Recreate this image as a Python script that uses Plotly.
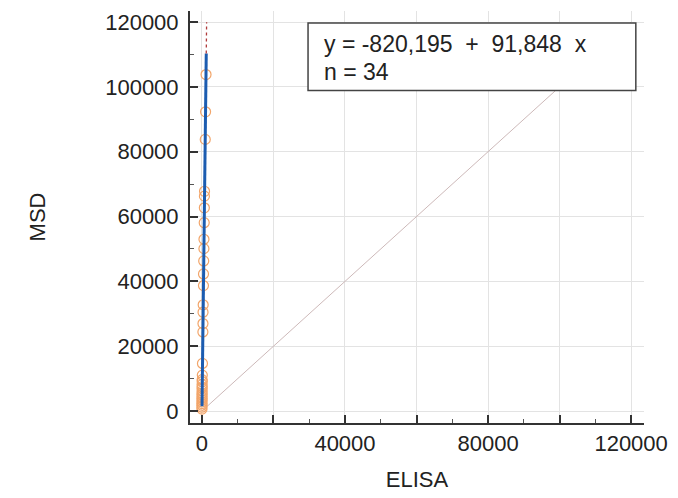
import plotly.graph_objects as go

# Data
msd = [103800, 92300, 83800, 67800, 66300, 62700, 58100, 53000, 50100, 46300,
       42300, 38700, 32800, 30500, 27000, 24400, 14700, 11100, 9700, 9100,
       8200, 7500, 7000, 6200, 5500, 5000, 4400, 3900, 3400, 2800,
       2300, 1800, 1200, 600]
elisa = [1150, 1020, 930, 730, 700, 680, 640, 570, 560, 500,
         440, 430, 350, 310, 290, 270, 150, 110, 60, 90,
         40, 80, 30, 70, 20, 60, 10, 50, 30, 20,
         10, 30, 0, 10]
intercept = -820.195
slope = 91.848
fit_x = [25, 1210]
ext_x = [1210, 1315]
identity = [0, 120000]

FONT = "Liberation Sans, Arial"
fig = go.Figure()
fig.add_trace(go.Scatter(x=identity, y=identity, mode="lines",
                         line=dict(color="#cdb9b9", width=1), hoverinfo="skip"))
fig.add_trace(go.Scatter(x=elisa, y=msd, mode="markers",
                         marker=dict(symbol="circle-open", size=10,
                                     color="#f2a56a", line=dict(width=1.2))))
fig.add_trace(go.Scatter(x=fit_x, y=[intercept + slope * v for v in fit_x], mode="lines",
                         line=dict(color="#1c5cb0", width=3)))
fig.add_trace(go.Scatter(x=ext_x, y=[intercept + slope * v for v in ext_x], mode="lines",
                         line=dict(color="#b03a3a", width=1.3, dash="dot")))

axis_common = dict(
    showline=True, linecolor="#333333", linewidth=2,
    ticks="inside", ticklen=8, tickwidth=2, tickcolor="#333333",
    showgrid=True, gridcolor="#e3e3e3", gridwidth=1, zeroline=False,
    tickfont=dict(family=FONT, size=22, color="#222222"),
    minor=dict(ticks="inside", ticklen=4, tickwidth=1, tickcolor="#555555",
               dtick=10000, showgrid=False),
)
fig.update_xaxes(**axis_common, range=[-3333, 123600], ticklabelstandoff=0,
                 tickvals=[0, 20000, 40000, 60000, 80000, 100000, 120000],
                 ticktext=["0", "", "40000", "", "80000", "", "120000"],
                 title=dict(text="ELISA", font=dict(family=FONT, size=22, color="#222222"),
                            standoff=16))
fig.update_yaxes(**axis_common, range=[-3675, 123400], ticklabelstandoff=5,
                 tickvals=[0, 20000, 40000, 60000, 80000, 100000, 120000],
                 ticktext=["0", "20000", "40000", "60000", "80000", "100000", "120000"],
                 title=dict(text="MSD", font=dict(family=FONT, size=22, color="#222222"),
                            standoff=53))

fig.add_shape(type="rect", xref="paper", yref="paper", x0=0.260, x1=0.982, y0=0.807, y1=0.971,
              line=dict(color="#444444", width=1.5), fillcolor="white", layer="above")
fig.add_annotation(xref="paper", yref="paper", x=0.291, y=0.920, xanchor="left", yanchor="middle",
                   text="y = -820,195\u00a0 +\u00a0 91,848\u00a0 x", showarrow=False,
                   font=dict(family=FONT, size=23, color="#222222"))
fig.add_annotation(xref="paper", yref="paper", x=0.291, y=0.851, xanchor="left", yanchor="middle",
                   text="n = 34", showarrow=False,
                   font=dict(family=FONT, size=23, color="#222222"))

fig.update_layout(width=678, height=498, margin=dict(l=190, r=31, t=10, b=73),
                  plot_bgcolor="white", paper_bgcolor="white", showlegend=False)
fig.write_html("out.html")
